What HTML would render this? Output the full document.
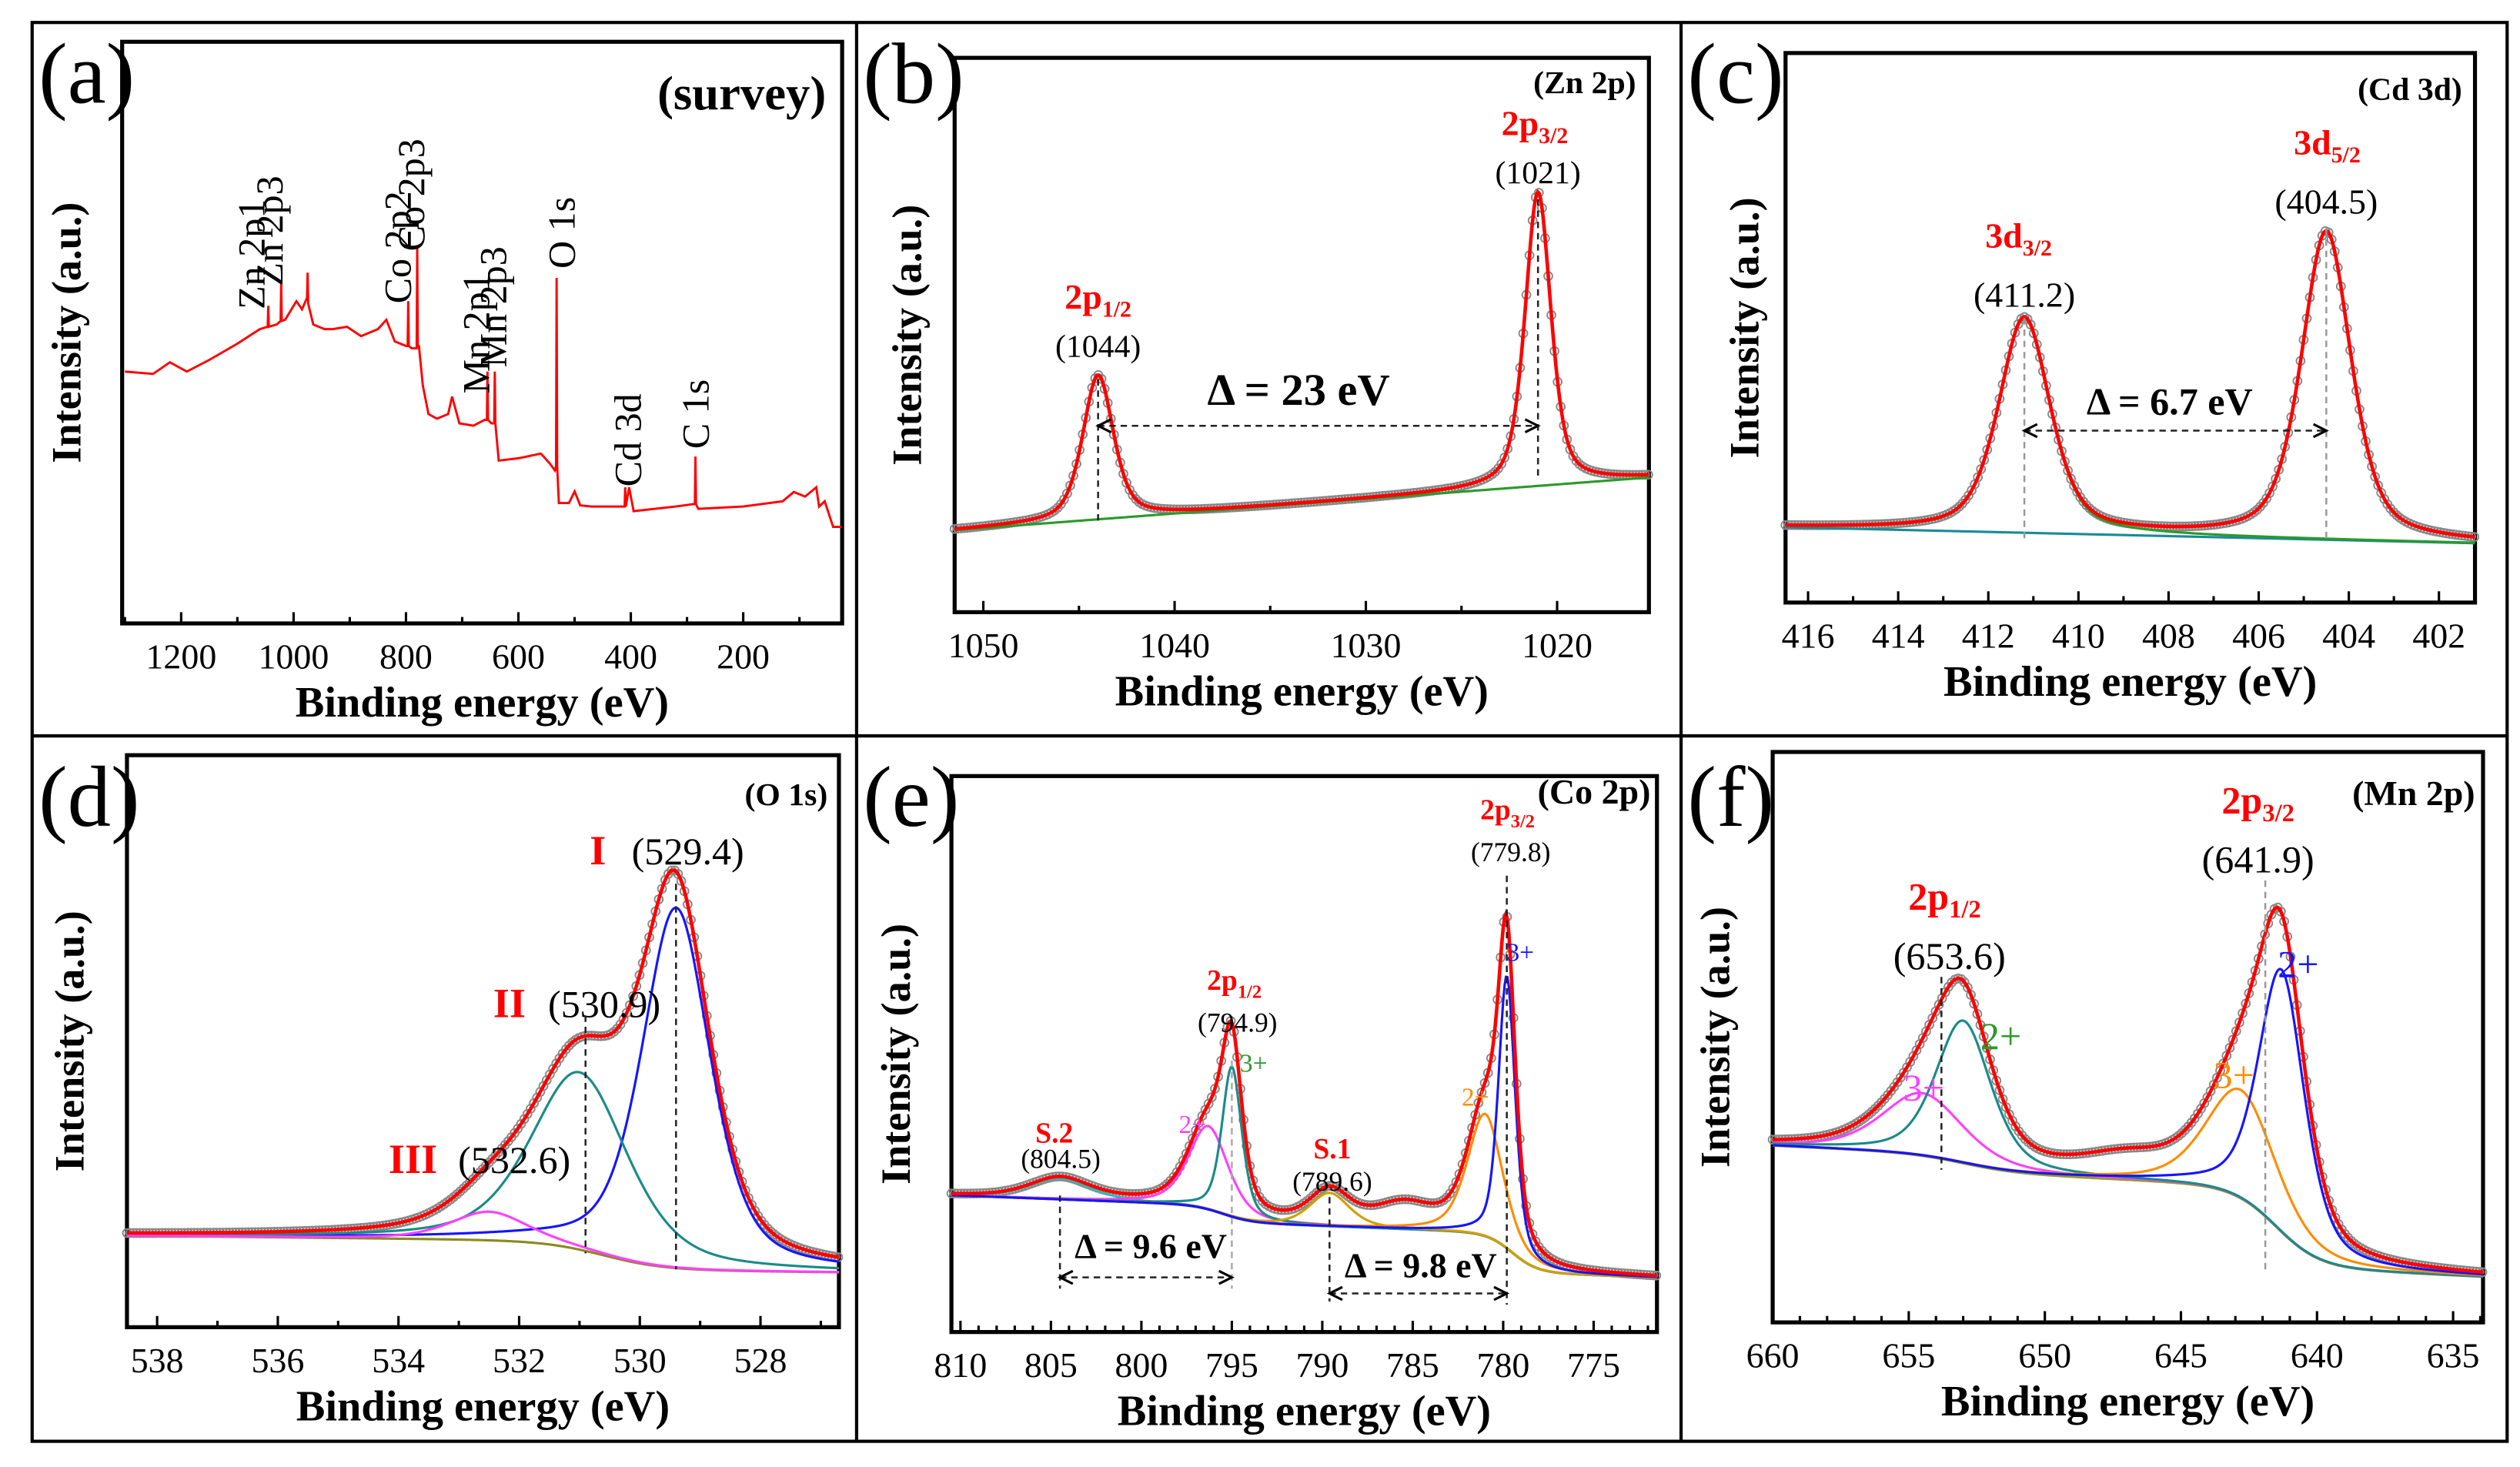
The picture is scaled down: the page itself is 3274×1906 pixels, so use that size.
<!DOCTYPE html>
<html><head><meta charset="utf-8"><style>
html,body{margin:0;padding:0;background:#fff;}
svg{display:block;}
text{font-family:"Liberation Serif",serif;}
</style></head><body>
<svg id="fig" width="3274" height="1906" viewBox="0 0 1568 913" preserveAspectRatio="none" xmlns="http://www.w3.org/2000/svg">
<rect x="0" y="0" width="1568" height="913" fill="#fff"/>
<g id="frames" fill="none" stroke="#000" stroke-width="2">
<rect x="20" y="14" width="1540" height="883"/>
<line x1="20" y1="458" x2="1560" y2="458"/>
<line x1="533" y1="14" x2="533" y2="897"/>
<line x1="1046" y1="14" x2="1046" y2="897"/>
</g>
<g id="layer"></g>
</svg>
<script>
// ---------- data ----------
// (a) survey
const surveyEnergy=[1300,1250,1220,1190,1150,1100,1060,1046,1045,1044,1030,1023,1022,1021,1015,995,985,976,975,974,965,945,930,905,880,850,835,820,800,797,796,795,790,781,780,779,777,770,760,745,725,718,705,680,660,656,655,654,648,643,642,641,635,600,560,545,535,533,532,531,528,510,500,490,470,420,411,410,409,403,395,320,290,286,285,284,280,200,130,110,90,70,65,55,40,25];
const surveyIntensity=[43.3,42.9,44.9,43.3,45.3,48.1,50.6,51,54.6,51,51.4,52,58.6,52,52.2,55.4,54,56,60.3,55,51.4,50.6,50.6,51,49.4,50.6,52.2,48.5,47.7,47.7,55.4,47.7,47.3,47.3,64.7,47.7,47.7,40.9,36,35.2,36,39,34.4,34,35,35,43.3,35,34.4,34.4,43.3,34.4,28,28.4,29.2,27.6,26.3,27,59.4,27,20.7,20.7,22.7,20.3,20.1,20.1,20.1,23.4,20.1,23.4,19.3,20.1,20.5,20.5,28.7,20.5,19.7,20.1,21,22.6,21.8,23.4,20.1,21,16.6,16.6];
const surveyLabels=["Zn 2p1","Zn 2p3","Co 2p2","Co 2p3","Mn 2p1","Mn 2p3","O 1s","Cd 3d","C 1s"];
const surveyLabelE=[1072,1040,812,788,672,642,520,402,282];
const surveyLabelTop=[54,58,55,64,39.5,44,61,23.5,30];
// (b) Zn 2p
const bCenters=[1044,1021], bHeights=[26,53], bWidths=[1.9,1.6];
// (c) Cd 3d
const cCenters=[411.2,404.5], cHeights=[39,56], cWidths=[1.35,1.3];
// (d) O 1s
const dCenters=[529.4,531.0,532.5], dHeights=[63,31,5], dWidths=[1.35,1.9,1.5];
// (e) Co 2p
const eCenters=[804.5,796.3,795.0,789.6,785.5,781.0,779.8], eHeights=[3.8,15,27,6,4,22,49], eWidths=[4,2.6,1.3,2.6,4,2.3,1.1];
// (f) Mn 2p
const fCenters=[654.5,653.0,647,642.8,641.3], fHeights=[11,25,3,19,46], fWidths=[3.5,2.4,4,3,2];
// tick labels
const aTicks=[1200,1000,800,600,400,200];
const bTicks=[1050,1040,1030,1020];
const cTicks=[416,414,412,410,408,406,404,402];
const dTicks=[538,536,534,532,530,528];
const eTicks=[810,805,800,795,790,785,780,775];
const fTicks=[660,655,650,645,640,635];

// ---------- helpers ----------
const NS="http://www.w3.org/2000/svg";
const layer=document.getElementById('layer');
function mk(tag,attrs,parent){const e=document.createElementNS(NS,tag);for(const k in attrs)e.setAttribute(k,attrs[k]);(parent||layer).appendChild(e);return e;}
function pv(x,c,h,w){const t=(x-c)/w;return h*(0.5*Math.exp(-4*Math.LN2*t*t)+0.5/(1+4*t*t));}
function sig(x,c,w){return 1/(1+Math.exp(-(x-c)/w));}

function makePanel(p){
  const g=mk('g',{});
  
  
  p.xs=v=>p.L+(p.xl-v)/(p.xl-p.xr)*(p.R-p.L);
  p.ys=v=>p.B-v/100*(p.B-p.T);
  p.g=g;
  return p;
}
function axes(p,ticks,minorStep,fs){
  const g=p.g;
  const fr=mk('rect',{x:p.L,y:p.T,width:p.R-p.L,height:p.B-p.T,fill:'none',stroke:'#000','stroke-width':2.5},g);
  
  
  const lo=Math.min(p.xl,p.xr),hi=Math.max(p.xl,p.xr);
  for(let v=Math.ceil(lo/minorStep)*minorStep;v<=hi;v+=minorStep){
    const major=ticks.some(t=>Math.abs(t-v)<1e-6);
    mk('line',{x1:p.xs(v),x2:p.xs(v),y1:p.B,y2:p.B-(major?7:4),stroke:'#000','stroke-width':1.5},g);
  }
  ticks.forEach(t=>{
    const tx=mk('text',{x:p.xs(t),y:p.B+28,'font-size':fs||22,'text-anchor':'middle'},g);
    tx.textContent=t;
    
    
  });
  const xl=mk('text',{x:(p.L+p.R)/2,y:p.B+58,'font-size':27,'font-weight':'bold','text-anchor':'middle'},g);
  xl.textContent='Binding energy (eV)';
  
  
  const yl=mk('text',{x:0,y:0,'font-size':26,'font-weight':'bold','text-anchor':'middle',transform:`translate(${p.ylx},${(p.T+p.B)/2+p.yloff}) rotate(-90)`},g);
  yl.textContent='Intensity (a.u.)';
  
  
  const pl=mk('text',{x:p.letX,y:p.letY,'font-size':54},g);
  pl.textContent=p.letter;
  
  
}
function txt(p,x,y,s,opt){
  opt=opt||{};
  const t=mk('text',{x:x,y:y,'font-size':opt.fs||22,'text-anchor':opt.anchor||'middle',fill:opt.fill||'#000','font-weight':opt.bold?'bold':'normal'},p.g);
  if(opt.sub){
    const a=mk('tspan',{},t);a.textContent=s;
    const b=mk('tspan',{dy:5,'font-size':(opt.fs||22)*0.65},t);b.textContent=opt.sub;
  } else t.textContent=s;
  
  
  return t;
}
function dline(p,x1,y1,x2,y2,col){
  const l=mk('line',{x1,y1,x2,y2,stroke:col||'#222','stroke-width':1.2,'stroke-dasharray':'4,3'},p.g);
  
  
}
function arrow(p,x1,x2,y){
  dline(p,x1,y,x2,y);
  mk('path',{d:`M${x1+8},${y-4} L${x1},${y} L${x1+8},${y+4}`,fill:'none',stroke:'#000','stroke-width':1.5},p.g);
  mk('path',{d:`M${x2-8},${y-4} L${x2},${y} L${x2-8},${y+4}`,fill:'none',stroke:'#000','stroke-width':1.5},p.g);
}
function curve(p,f,col,w,name){
  let d='';const n=500;
  for(let i=0;i<=n;i++){const x=p.xl+(p.xr-p.xl)*i/n;const y=p.ys(f(x));d+=(i?'L':'M')+p.xs(x).toFixed(2)+','+y.toFixed(2);}
  const e=mk('path',{d,fill:'none',stroke:col,'stroke-width':w},p.g);
  
  
  return e;
}
function points(p,f,step){
  const g=mk('g',{fill:'none',stroke:'#888','stroke-width':0.9},p.g);
  
  
  const n=Math.abs(p.xl-p.xr)/step;
  for(let i=0;i<=n;i++){const x=p.xl+(p.xr-p.xl)*i/n;mk('circle',{cx:p.xs(x),cy:p.ys(f(x)),r:2.6},g);}
}
function fitPanel(p,C,H,W,bg,cols){
  const env=x=>{let s=bg(x);for(let i=0;i<C.length;i++)s+=pv(x,C[i],H[i],W[i]);return s;};
  points(p,env,0.18*Math.abs(p.xl-p.xr)/40);
  curve(p,bg,p.bgCol||'#8a8a20',1.5,'background-line');
  if(cols)C.forEach((c,i)=>{if(cols[i])curve(p,x=>bg(x)+pv(x,C[i],H[i],W[i]),cols[i],1.5,'component-peak');});
  curve(p,env,'#ff0000',2.2,'envelope-fit');
  return env;
}

// ---------- panel (a) ----------
const A=makePanel({name:'panel-a-survey',L:76,R:524,T:26,B:388,xl:1305,xr:24,ylx:50,yloff:0,letter:'(a)',letX:24,letY:64});
axes(A,aTicks,100,22);
(function(){
  let d='';
  surveyEnergy.forEach((e,i)=>{d+=(i?'L':'M')+A.xs(e).toFixed(2)+','+A.ys(surveyIntensity[i]).toFixed(2);});
  const s=mk('path',{d,fill:'none',stroke:'#ff0000','stroke-width':1.4},A.g);
  
  
  surveyLabels.forEach((l,i)=>{
    const x=A.xs(surveyLabelE[i])+7, y=A.ys(surveyLabelTop[i]);
    const t=mk('text',{x:0,y:0,'font-size':24,transform:`translate(${x},${y}) rotate(-90)`},A.g);
    t.textContent=l;
    
    
  });
  txt(A,514,68,'(survey)',{fs:30,bold:true,anchor:'end',name:'panel-title'});
})();

// ---------- panel (b) ----------
const Bp=makePanel({name:'panel-b-zn2p',L:594,R:1026,T:36,B:381,xl:1051.5,xr:1015.2,ylx:573,yloff:0,letter:'(b)',letX:537,letY:64,bgCol:'#2a9a2a'});
axes(Bp,bTicks,5,22);
fitPanel(Bp,bCenters,bHeights,bWidths,x=>24.3-0.262*(x-1015.2),null);
txt(Bp,1018,58,'(Zn 2p)',{fs:20,bold:true,anchor:'end',name:'panel-title'});
txt(Bp,Bp.xs(1044),192,'2p',{fs:22,bold:true,fill:'#ff0000',sub:'1/2'});
txt(Bp,Bp.xs(1044),222,'(1044)',{fs:20});
txt(Bp,Bp.xs(1021)-2,84,'2p',{fs:22,bold:true,fill:'#ff0000',sub:'3/2'});
txt(Bp,Bp.xs(1021),114,'(1021)',{fs:20});
txt(Bp,808,252,'Δ = 23 eV',{fs:28,bold:true});
dline(Bp,Bp.xs(1044),236,Bp.xs(1044),324);
dline(Bp,Bp.xs(1021),124,Bp.xs(1021),298);
arrow(Bp,Bp.xs(1044),Bp.xs(1021),265);

// ---------- panel (c) ----------
const Cp=makePanel({name:'panel-c-cd3d',L:1111,R:1540,T:33,B:375,xl:416.5,xr:401.2,ylx:1094,yloff:0,letter:'(c)',letX:1050,letY:64,bgCol:'#1a8a9a'});
axes(Cp,cTicks,1,22);
fitPanel(Cp,cCenters,cHeights,cWidths,x=>10.8+0.19*(x-401.2),['#2a9a2a',null]);
txt(Cp,1532,62,'(Cd 3d)',{fs:20,bold:true,anchor:'end',name:'panel-title'});
txt(Cp,1256,154,'3d',{fs:22,bold:true,fill:'#ff0000',sub:'3/2'});
txt(Cp,Cp.xs(411.2),191,'(411.2)',{fs:22});
txt(Cp,1448,96,'3d',{fs:22,bold:true,fill:'#ff0000',sub:'5/2'});
txt(Cp,Cp.xs(404.5),133,'(404.5)',{fs:22});
txt(Cp,1350,258,'Δ = 6.7 eV',{fs:24,bold:true});
dline(Cp,Cp.xs(411.2),198,Cp.xs(411.2),336,'#999');
dline(Cp,Cp.xs(404.5),142,Cp.xs(404.5),336,'#999');
arrow(Cp,Cp.xs(411.2),Cp.xs(404.5),268);

// ---------- panel (d) ----------
const Dp=makePanel({name:'panel-d-o1s',L:79,R:522,T:470,B:826,xl:538.5,xr:526.7,ylx:52,yloff:0,letter:'(d)',letX:24,letY:514});
axes(Dp,dTicks,1,22);
fitPanel(Dp,dCenters,dHeights,dWidths,x=>9.6+0.12*(x-526.7)+5*sig(x,530.6,0.5),['#1515ff','#1a8a8a','#ff40ff']);
txt(Dp,515,501,'(O 1s)',{fs:20,bold:true,anchor:'end',name:'panel-title'});
txt(Dp,372,538,'I',{fs:26,bold:true,fill:'#ff0000'});
txt(Dp,428,538,'(529.4)',{fs:24});
txt(Dp,317,633,'II',{fs:26,bold:true,fill:'#ff0000'});
txt(Dp,376,633,'(530.9)',{fs:24});
txt(Dp,257,730,'III',{fs:26,bold:true,fill:'#ff0000'});
txt(Dp,320,730,'(532.6)',{fs:24});
dline(Dp,Dp.xs(530.9),632,Dp.xs(530.9),780);
dline(Dp,Dp.xs(529.4),550,Dp.xs(529.4),790);

// ---------- panel (e) ----------
const Ep=makePanel({name:'panel-e-co2p',L:592,R:1031,T:483,B:829,xl:810.5,xr:771.5,ylx:566,yloff:0,letter:'(e)',letX:537,letY:514,bgCol:'#8a5050'});
axes(Ep,eTicks,1,22);
fitPanel(Ep,eCenters,eHeights,eWidths,x=>9.8+0.123*(x-771.5)+3*sig(x,795.5,0.8)+7*sig(x,779.5,0.7),['#20c0c0','#ff40ff','#1a8a8a','#d0a000',null,'#ff8c00','#1515ff']);
txt(Ep,1027,500,'(Co 2p)',{fs:22,bold:true,anchor:'end',name:'panel-title'});
txt(Ep,938,510,'2p',{fs:18,bold:true,fill:'#ff0000',sub:'3/2'});
txt(Ep,940,536,'(779.8)',{fs:17});
txt(Ep,946,598,'3+',{fs:16,fill:'#1515ff'});
txt(Ep,768,616,'2p',{fs:18,bold:true,fill:'#ff0000',sub:'1/2'});
txt(Ep,770,642,'(794.9)',{fs:17});
txt(Ep,780,667,'3+',{fs:16,fill:'#2a9a2a'});
txt(Ep,742,705,'2+',{fs:16,fill:'#ff40ff'});
txt(Ep,918,688,'2+',{fs:16,fill:'#ff8c00'});
txt(Ep,656,711,'S.2',{fs:18,bold:true,fill:'#ff0000'});
txt(Ep,660,727,'(804.5)',{fs:17});
txt(Ep,829,721,'S.1',{fs:18,bold:true,fill:'#ff0000'});
txt(Ep,829,741,'(789.6)',{fs:17});
txt(Ep,716,783,'Δ = 9.6 eV',{fs:22,bold:true});
txt(Ep,884,795,'Δ = 9.8 eV',{fs:22,bold:true});
dline(Ep,Ep.xs(804.5),744,Ep.xs(804.5),802);
dline(Ep,Ep.xs(795),660,Ep.xs(795),802,'#aaa');
dline(Ep,Ep.xs(789.6),745,Ep.xs(789.6),810);
dline(Ep,Ep.xs(779.8),545,Ep.xs(779.8),812);
arrow(Ep,Ep.xs(804.5),Ep.xs(795),795);
arrow(Ep,Ep.xs(789.6),Ep.xs(779.8),805);

// ---------- panel (f) ----------
const Fp=makePanel({name:'panel-f-mn2p',L:1103,R:1545,T:468,B:823,xl:660,xr:633.9,ylx:1076,yloff:0,letter:'(f)',letX:1050,letY:514,bgCol:'#9a9a20'});
axes(Fp,fTicks,1,22);
fitPanel(Fp,fCenters,fHeights,fWidths,x=>8+0.23*(x-633.9)+14*sig(x,641.5,0.8)+3*sig(x,653,1),['#ff40ff','#1a8a8a',null,'#ff8c00','#1515ff']);
txt(Fp,1540,501,'(Mn 2p)',{fs:22,bold:true,anchor:'end',name:'panel-title'});
txt(Fp,1210,566,'2p',{fs:24,bold:true,fill:'#ff0000',sub:'1/2'});
txt(Fp,1213,603,'(653.6)',{fs:24});
txt(Fp,1405,506,'2p',{fs:24,bold:true,fill:'#ff0000',sub:'3/2'});
txt(Fp,1405,543,'(641.9)',{fs:24});
txt(Fp,1430,608,'2+',{fs:24,fill:'#1515ff'});
txt(Fp,1245,653,'2+',{fs:24,fill:'#2a9a2a'});
txt(Fp,1197,685,'3+',{fs:24,fill:'#ff40ff'});
txt(Fp,1390,677,'3+',{fs:24,fill:'#ff8c00'});
dline(Fp,Fp.xs(653.8),608,Fp.xs(653.8),728);
dline(Fp,Fp.xs(641.9),548,Fp.xs(641.9),792,'#999');
</script>
</body></html>
